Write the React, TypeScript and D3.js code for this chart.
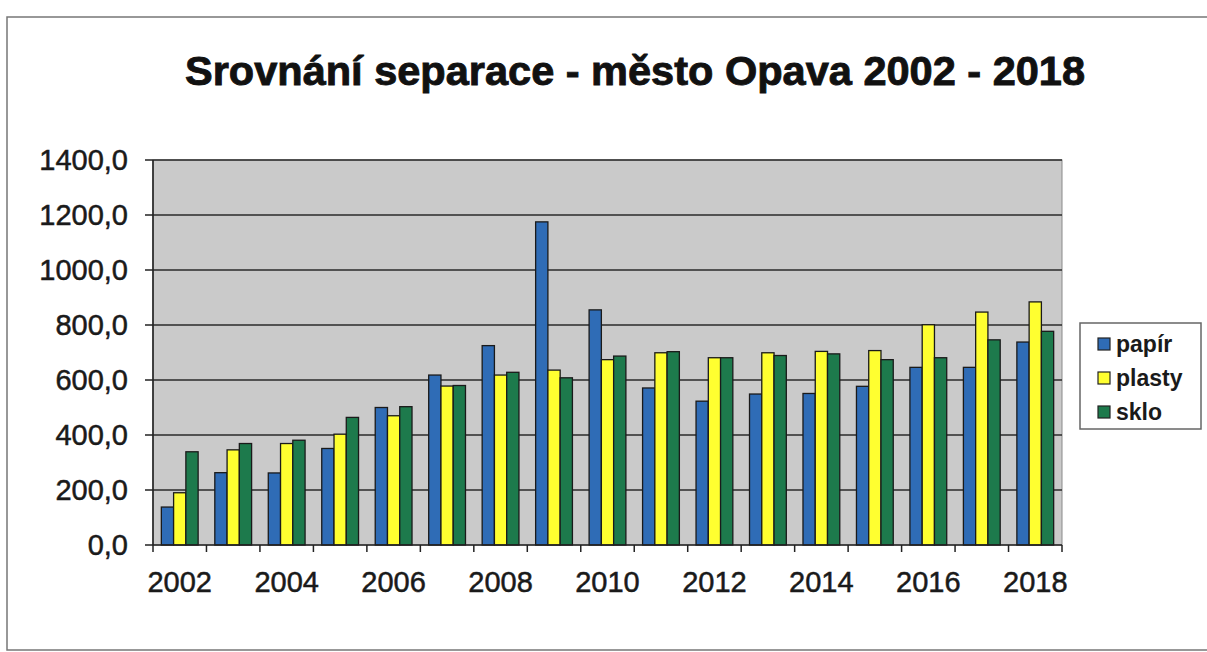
import React from "react";
import * as d3 from "d3";

const years = ["2002","2003","2004","2005","2006","2007","2008","2009","2010","2011","2012","2013","2014","2015","2016","2017","2018"];
const seriesNames = ["papír", "plasty", "sklo"];
const papir = [138, 263, 262, 351, 500, 618, 725, 1175, 855, 571, 523, 549, 551, 577, 646, 646, 738];
const plasty = [190, 346, 369, 403, 470, 578, 618, 636, 674, 699, 681, 699, 704, 707, 801, 847, 884];
const sklo = [339, 369, 381, 464, 503, 580, 628, 608, 687, 703, 681, 689, 695, 674, 681, 746, 777];
const yTicks = [0, 200, 400, 600, 800, 1000, 1200, 1400];
const xLabelYears = ["2002","2004","2006","2008","2010","2012","2014","2016","2018"];
const titleText = "Srovnání separace - město Opava 2002 - 2018";

const colors = ["#2f6cb6", "#ffff30", "#1d7a4c"];
const seriesValues = [papir, plasty, sklo];

export default function App() {
  const W = 1207, H = 652;
  const left = 153, right = 1062, top = 160, bottom = 545;
  const x = d3.scaleBand<string>().domain(years).range([left, right]).padding(0);
  const inner = d3.scaleBand<string>().domain(seriesNames).range([0, x.bandwidth()]).paddingInner(0).paddingOuter(0.68);
  const y = d3.scaleLinear().domain([0, 1400]).range([bottom, top]);
  const fmt = (v: number) => d3.format(".1f")(v).replace(".", ",");
  const font = "'Liberation Sans', Arial, sans-serif";

  return (
    <svg width={W} height={H} style={{ position: "absolute", left: 0, top: 0, background: "#fff" }} fontFamily={font}>
      <rect x={0} y={0} width={W} height={H} fill="#fff" />
      {/* outer frame */}
      <path d={`M ${W + 5} 17 L 7 17 L 7 650 L ${W + 5} 650`} fill="none" stroke="#777" strokeWidth={1.5} />
      {/* title */}
      <text x={635} y={85} textAnchor="middle" fontSize={41} fontWeight="bold" fill="#111"
        stroke="#111" strokeWidth={0.9}
        textLength={900} lengthAdjust="spacingAndGlyphs">{titleText}</text>
      {/* plot area */}
      <rect x={left} y={top} width={right - left} height={bottom - top} fill="#cacaca" stroke="#8a8a8a" strokeWidth={1} />
      {yTicks.map((t) => (
        <g key={t}>
          {t > 0 && <line x1={left} x2={right} y1={y(t)} y2={y(t)} stroke="#2a2a2a" strokeWidth={1.6} />}
          <line x1={left - 8} x2={left} y1={y(t)} y2={y(t)} stroke="#222" strokeWidth={1.5} />
          <text x={128} y={y(t)} dy="0.36em" textAnchor="end" fontSize={29} fill="#1a1a1a"
            stroke="#1a1a1a" strokeWidth={0.5}>{fmt(t)}</text>
        </g>
      ))}
      {/* bars */}
      {years.map((yr, i) => (
        <g key={yr} transform={`translate(${x(yr)},0)`}>
          {seriesNames.map((s, j) => {
            const v = seriesValues[j][i];
            return (
              <rect key={s} x={inner(s)} y={y(v)} width={inner.bandwidth()} height={y(0) - y(v)}
                fill={colors[j]} stroke="#1a1a1a" strokeWidth={1.3} />
            );
          })}
        </g>
      ))}
      {/* axes */}
      <line x1={left} x2={left} y1={top} y2={bottom} stroke="#222" strokeWidth={1.6} />
      <line x1={left} x2={right} y1={bottom} y2={bottom} stroke="#222" strokeWidth={1.6} />
      {years.concat(["end"]).map((yr, i) => {
        const xx = left + i * x.step();
        return <line key={yr + i} x1={xx} x2={xx} y1={bottom} y2={bottom + 7} stroke="#222" strokeWidth={1.5} />;
      })}
      {xLabelYears.map((yr) => (
        <text key={yr} x={(x(yr) as number) + x.bandwidth() / 2} y={592} textAnchor="middle" fontSize={29} fill="#1a1a1a"
          stroke="#1a1a1a" strokeWidth={0.5}>{yr}</text>
      ))}
      {/* legend */}
      <rect x={1080} y={323} width={121} height={106} fill="#fff" stroke="#666" strokeWidth={1.5} />
      {seriesNames.map((s, j) => {
        const cy = 344 + j * 34;
        return (
          <g key={s}>
            <rect x={1098} y={cy - 6} width={12} height={12} fill={colors[j]} stroke="#222" strokeWidth={1.2} />
            <text x={1116} y={cy} dy="0.36em" fontSize={23} fontWeight="bold" fill="#1a1a1a">{s}</text>
          </g>
        );
      })}
    </svg>
  );
}
